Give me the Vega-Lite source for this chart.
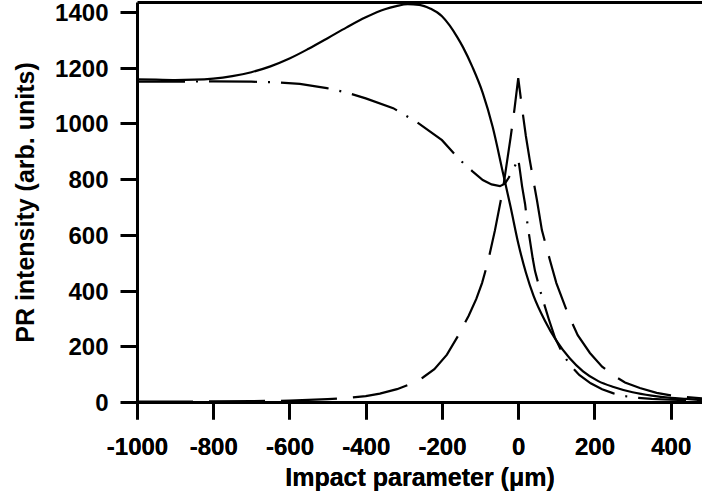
{
  "$schema": "https://vega.github.io/schema/vega-lite/v6.json",
  "width": 565,
  "height": 400,
  "autosize": {"type": "none"},
  "padding": {"left": 137, "top": 2, "right": 0, "bottom": 98},
  "background": "white",
  "config": {
    "font": "Liberation Sans",
    "view": {"stroke": null},
    "axis": {
      "grid": false,
      "domainColor": "black",
      "domainWidth": 3,
      "tickColor": "black",
      "tickWidth": 3,
      "tickSize": 17,
      "labelFont": "Liberation Sans",
      "labelFontSize": 24,
      "labelFontWeight": "bold",
      "labelColor": "black",
      "titleFont": "Liberation Sans",
      "titleFontSize": 25,
      "titleFontWeight": "bold",
      "titleColor": "black",
      "labelFlush": false,
      "labelOverlap": false
    }
  },
  "datasets": {
    "curves": [
      {"s": "A", "x": -1000, "y": 1158}, {"s": "A", "x": -950, "y": 1157}, {"s": "A", "x": -900, "y": 1156}, {"s": "A", "x": -850, "y": 1157},
      {"s": "A", "x": -800, "y": 1161}, {"s": "A", "x": -750, "y": 1170}, {"s": "A", "x": -700, "y": 1184}, {"s": "A", "x": -650, "y": 1205},
      {"s": "A", "x": -600, "y": 1233}, {"s": "A", "x": -550, "y": 1268}, {"s": "A", "x": -500, "y": 1306}, {"s": "A", "x": -450, "y": 1345},
      {"s": "A", "x": -400, "y": 1381}, {"s": "A", "x": -350, "y": 1410}, {"s": "A", "x": -320, "y": 1421}, {"s": "A", "x": -290, "y": 1428},
      {"s": "A", "x": -260, "y": 1426}, {"s": "A", "x": -230, "y": 1412}, {"s": "A", "x": -200, "y": 1385}, {"s": "A", "x": -180, "y": 1352},
      {"s": "A", "x": -160, "y": 1310}, {"s": "A", "x": -145, "y": 1274}, {"s": "A", "x": -120, "y": 1202}, {"s": "A", "x": -93, "y": 1109},
      {"s": "A", "x": -67, "y": 987}, {"s": "A", "x": -40, "y": 822}, {"s": "A", "x": -20, "y": 700}, {"s": "A", "x": 0, "y": 570},
      {"s": "A", "x": 20, "y": 465}, {"s": "A", "x": 40, "y": 382}, {"s": "A", "x": 70, "y": 292}, {"s": "A", "x": 100, "y": 220},
      {"s": "A", "x": 135, "y": 157}, {"s": "A", "x": 170, "y": 110}, {"s": "A", "x": 210, "y": 75}, {"s": "A", "x": 250, "y": 54},
      {"s": "A", "x": 300, "y": 35}, {"s": "A", "x": 350, "y": 23}, {"s": "A", "x": 400, "y": 15}, {"s": "A", "x": 440, "y": 11},
      {"s": "A", "x": 482, "y": 7},

      {"s": "B", "x": -1000, "y": 1150}, {"s": "B", "x": -900, "y": 1150}, {"s": "B", "x": -800, "y": 1151}, {"s": "B", "x": -700, "y": 1150},
      {"s": "B", "x": -626, "y": 1147}, {"s": "B", "x": -573, "y": 1142}, {"s": "B", "x": -502, "y": 1127}, {"s": "B", "x": -450, "y": 1111},
      {"s": "B", "x": -400, "y": 1090}, {"s": "B", "x": -328, "y": 1055}, {"s": "B", "x": -266, "y": 1005}, {"s": "B", "x": -200, "y": 940},
      {"s": "B", "x": -153, "y": 869}, {"s": "B", "x": -120, "y": 828}, {"s": "B", "x": -93, "y": 797}, {"s": "B", "x": -70, "y": 781},
      {"s": "B", "x": -48, "y": 775}, {"s": "B", "x": -35, "y": 784}, {"s": "B", "x": -25, "y": 805}, {"s": "B", "x": -10, "y": 843},
      {"s": "B", "x": 0, "y": 874}, {"s": "B", "x": 5, "y": 825}, {"s": "B", "x": 10, "y": 775}, {"s": "B", "x": 18, "y": 710},
      {"s": "B", "x": 25, "y": 630}, {"s": "B", "x": 38, "y": 515}, {"s": "B", "x": 44, "y": 470}, {"s": "B", "x": 62, "y": 378},
      {"s": "B", "x": 80, "y": 298}, {"s": "B", "x": 96, "y": 232}, {"s": "B", "x": 115, "y": 178}, {"s": "B", "x": 135, "y": 134},
      {"s": "B", "x": 160, "y": 97}, {"s": "B", "x": 190, "y": 67}, {"s": "B", "x": 220, "y": 46}, {"s": "B", "x": 250, "y": 31},
      {"s": "B", "x": 280, "y": 21}, {"s": "B", "x": 311, "y": 15}, {"s": "B", "x": 350, "y": 11}, {"s": "B", "x": 400, "y": 8},
      {"s": "B", "x": 482, "y": 5},

      {"s": "C", "x": -1000, "y": 1}, {"s": "C", "x": -900, "y": 1}, {"s": "C", "x": -800, "y": 2}, {"s": "C", "x": -700, "y": 3},
      {"s": "C", "x": -600, "y": 5}, {"s": "C", "x": -500, "y": 10}, {"s": "C", "x": -450, "y": 14}, {"s": "C", "x": -400, "y": 21},
      {"s": "C", "x": -363, "y": 30}, {"s": "C", "x": -318, "y": 46}, {"s": "C", "x": -280, "y": 66}, {"s": "C", "x": -250, "y": 88},
      {"s": "C", "x": -220, "y": 118}, {"s": "C", "x": -187, "y": 170}, {"s": "C", "x": -158, "y": 237}, {"s": "C", "x": -130, "y": 310},
      {"s": "C", "x": -110, "y": 370}, {"s": "C", "x": -95, "y": 427}, {"s": "C", "x": -80, "y": 500}, {"s": "C", "x": -61, "y": 617},
      {"s": "C", "x": -40, "y": 765}, {"s": "C", "x": -20, "y": 950}, {"s": "C", "x": -10, "y": 1050}, {"s": "C", "x": 0, "y": 1163},
      {"s": "C", "x": 10, "y": 1055}, {"s": "C", "x": 20, "y": 955}, {"s": "C", "x": 30, "y": 870}, {"s": "C", "x": 49, "y": 725},
      {"s": "C", "x": 62, "y": 617}, {"s": "C", "x": 83, "y": 510}, {"s": "C", "x": 100, "y": 427}, {"s": "C", "x": 130, "y": 318},
      {"s": "C", "x": 156, "y": 240}, {"s": "C", "x": 188, "y": 176}, {"s": "C", "x": 220, "y": 127}, {"s": "C", "x": 250, "y": 95},
      {"s": "C", "x": 280, "y": 70}, {"s": "C", "x": 319, "y": 50}, {"s": "C", "x": 363, "y": 33}, {"s": "C", "x": 400, "y": 24},
      {"s": "C", "x": 440, "y": 18}, {"s": "C", "x": 482, "y": 13}
    ]
  },
  "data": {"name": "curves"},
  "encoding": {
    "x": {
      "field": "x", "type": "quantitative",
      "scale": {"domain": [-1000, 482], "nice": false, "zero": false},
      "axis": {
        "orient": "bottom",
        "values": [-1000, -800, -600, -400, -200, 0, 200, 400],
        "labelExpr": "toString(datum.value)",
        "labelPadding": 16,
        "title": "Impact parameter (μm)",
        "titlePadding": 6
      }
    },
    "y": {
      "field": "y", "type": "quantitative",
      "scale": {"domain": [0, 1436], "nice": false},
      "axis": {
        "values": [0, 200, 400, 600, 800, 1000, 1200, 1400],
        "labelExpr": "toString(datum.value)",
        "labelBaseline": "alphabetic",
        "labelOffset": 8.5,
        "labelPadding": 12,
        "title": "PR intensity (arb. units)",
        "titlePadding": 16
      }
    }
  },
  "layer": [
    {
      "transform": [{"filter": "datum.s === 'A'"}],
      "mark": {"type": "line", "color": "black", "strokeWidth": 2.2, "clip": true, "interpolate": "monotone"}
    },
    {
      "transform": [{"filter": "datum.s !== 'A'"}],
      "mark": {"type": "line", "color": "black", "strokeWidth": 2.2, "clip": true, "strokeCap": "butt"},
      "encoding": {
        "strokeDash": {
          "field": "s", "type": "nominal",
          "scale": {"domain": ["B", "C"], "range": [[48, 11, 2, 11], [56, 16]]},
          "legend": null
        }
      }
    },
    {
      "mark": {"type": "line", "opacity": 0},
      "encoding": {
        "x": {
          "field": "x", "type": "quantitative",
          "axis": {"orient": "top", "labels": false, "ticks": false, "title": null}
        },
        "detail": {"field": "s"}
      }
    }
  ],
  "resolve": {"axis": {"x": "independent"}}
}
